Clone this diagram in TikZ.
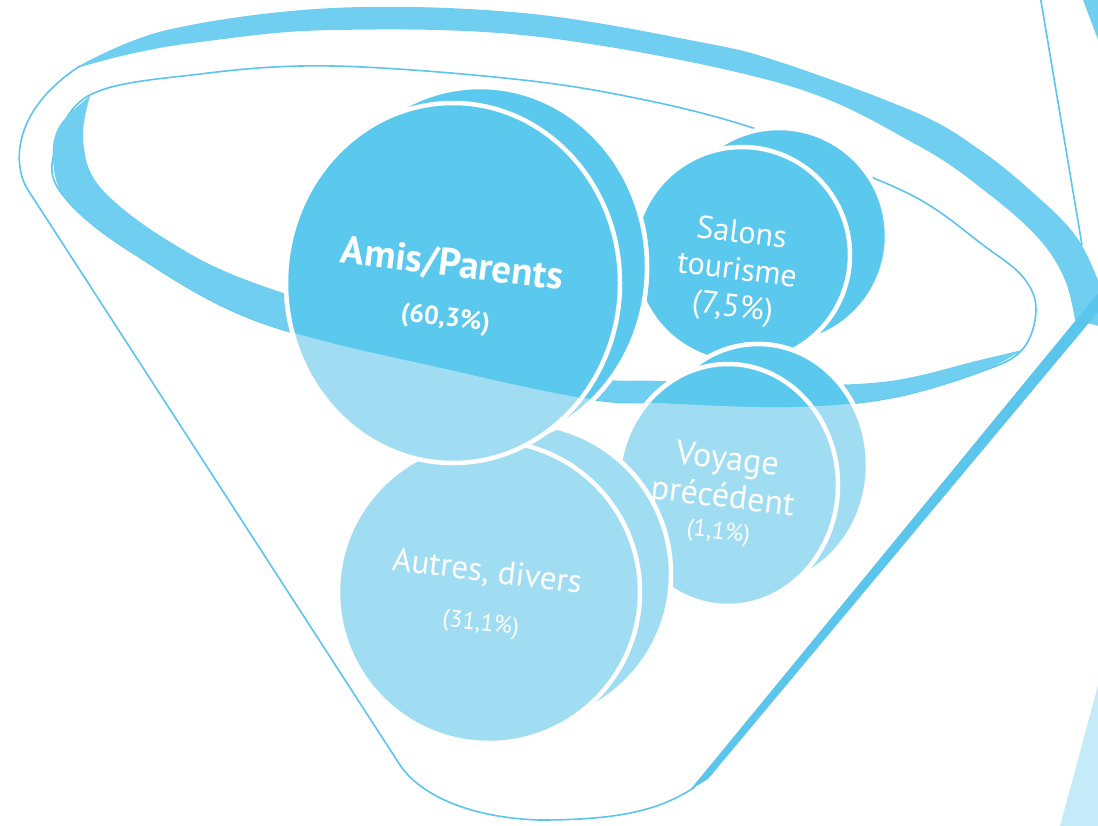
\documentclass[tikz,border=0pt]{standalone}
\usepackage{fontspec}
\setmainfont{PT Sans}
\definecolor{dk}{HTML}{5BC8EE}
\definecolor{lt}{HTML}{A0DDF3}
\definecolor{ln}{HTML}{5BC5EC}
\definecolor{bd}{HTML}{70CFF1}
\definecolor{pale}{HTML}{C6EBF8}
\def\DarkZone{plot[smooth,tension=0.6] coordinates {(90,96) (60,125) (53,158) (67,200) (133,253) (260,322) (460,372) (590,399) (660,403) (790,407) (890,398) (980,372) (1022,350)} -- (1100,300) -- (1100,-20) -- (0,-20) -- cycle}
\begin{document}
\begin{tikzpicture}[x=1pt,y=-1pt,
  fl/.style={draw=ln, line width=1.6},
  wl/.style={draw=white, line width=4.5},
  lightdisc/.style={fill=lt, wl},
  darkdisc/.style={fill=dk, wl},
  txt/.style={text=white, rotate=-7, inner sep=0, align=center}]
\useasboundingbox (0,0) rectangle (1098,825);
\clip (0,0) rectangle (1098,825);
% outer rim band
\fill[bd] plot[smooth,tension=0.6] coordinates {(77,67) (167,30) (333,8) (523,13) (700,42) (783,63) (917,113) (980,150) (1030,190) (1075,235) (1100,285) (1115,330)}
  -- plot[smooth,tension=0.6] coordinates {(1075,320) (1065,280) (1040,240) (990,195) (917,145) (783,84) (540,37) (333,30) (200,42) (130,54) (77,68)} -- cycle;
% funnel right thick side
\fill[ln] (1117,270) -- (1133,270) -- (708,779) -- (690,790) -- cycle;
% funnel outline
\draw[fl] (695,787) .. controls (660,810) and (620,820) .. (540,820)
  .. controls (470,818) and (420,795) .. (400,765) -- (28,190)
  .. controls (12,165) and (12,110) .. (80,66);
% top-right pieces
\draw[fl] (1040,-5) -- (1082,245);
\fill[bd] (1083,0) -- (1100,0) -- (1100,45) -- cycle;
\fill[pale] (1060,826) -- (1100,826) -- (1100,678) -- cycle;
% inner rim outline
\draw[fl] plot[smooth cycle, tension=0.6] coordinates {(88,96) (200,74) (333,66) (523,80) (650,101) (750,127) (817,155) (917,198) (983,245) (1023,277) (1036,310) (1022,350) (980,372) (890,398) (790,407) (660,403) (590,399) (460,372) (260,322) (133,253) (67,200) (53,158)};
% inner rim near band
\fill[bd] plot[smooth,tension=0.6] coordinates {(90,96) (60,125) (53,158) (67,200) (133,253) (260,322) (460,372) (590,399) (660,403) (790,407) (890,398) (980,372) (1022,350)}
  -- plot[smooth,tension=0.6] coordinates {(1022,350) (980,360) (890,381) (790,385) (660,381) (590,377) (460,345) (260,285) (167,240) (100,187) (83,140) (90,96)} -- cycle;
% Salons
\path[lightdisc] (779,236) circle[radius=108];
\path[lightdisc] (742,255) circle[radius=108];
\begin{scope}\clip \DarkZone;
\path[darkdisc] (779,236) circle[radius=108];
\path[darkdisc] (742,255) circle[radius=108];
\end{scope}
% Voyage
\path[lightdisc] (758,465) ellipse[x radius=110, y radius=121];
\path[lightdisc] (728,485) ellipse[x radius=110, y radius=121];
\begin{scope}\clip \DarkZone;
\path[darkdisc] (758,465) ellipse[x radius=110, y radius=121];
\path[darkdisc] (728,485) ellipse[x radius=110, y radius=121];
\end{scope}
% Autres
\path[lightdisc] (520,574) circle[radius=151];
\path[lightdisc] (489,592) circle[radius=151];
% Amis
\path[lightdisc] (480,267) ellipse[x radius=167, y radius=180];
\path[lightdisc] (453,283) ellipse[x radius=167, y radius=180];
\begin{scope}\clip \DarkZone;
\path[darkdisc] (480,267) ellipse[x radius=167, y radius=180];
\path[darkdisc] (453,283) ellipse[x radius=167, y radius=180];
\end{scope}
% labels
\node[txt, font=\bfseries\fontsize{39}{50}\selectfont] (amis) at (449,290) {Amis/Parents\\{\fontsize{26}{30}\selectfont (60,3\%)}};
\node[txt, font=\fontsize{32}{37}\selectfont] (salons) at (737,272) {Salons\\tourisme\\(7,5\%)};
\node[txt, font=\fontsize{34}{38}\selectfont] (voyage) at (723,495) {Voyage\\précédent\\[-6pt]{\fontsize{24}{28}\selectfont (1,1\%)}};
\node[txt, font=\fontsize{33}{49}\selectfont] (autres) at (484,597) {Autres, divers\\{\fontsize{24}{28}\selectfont (31,1\%)}};
\end{tikzpicture}
\end{document}
